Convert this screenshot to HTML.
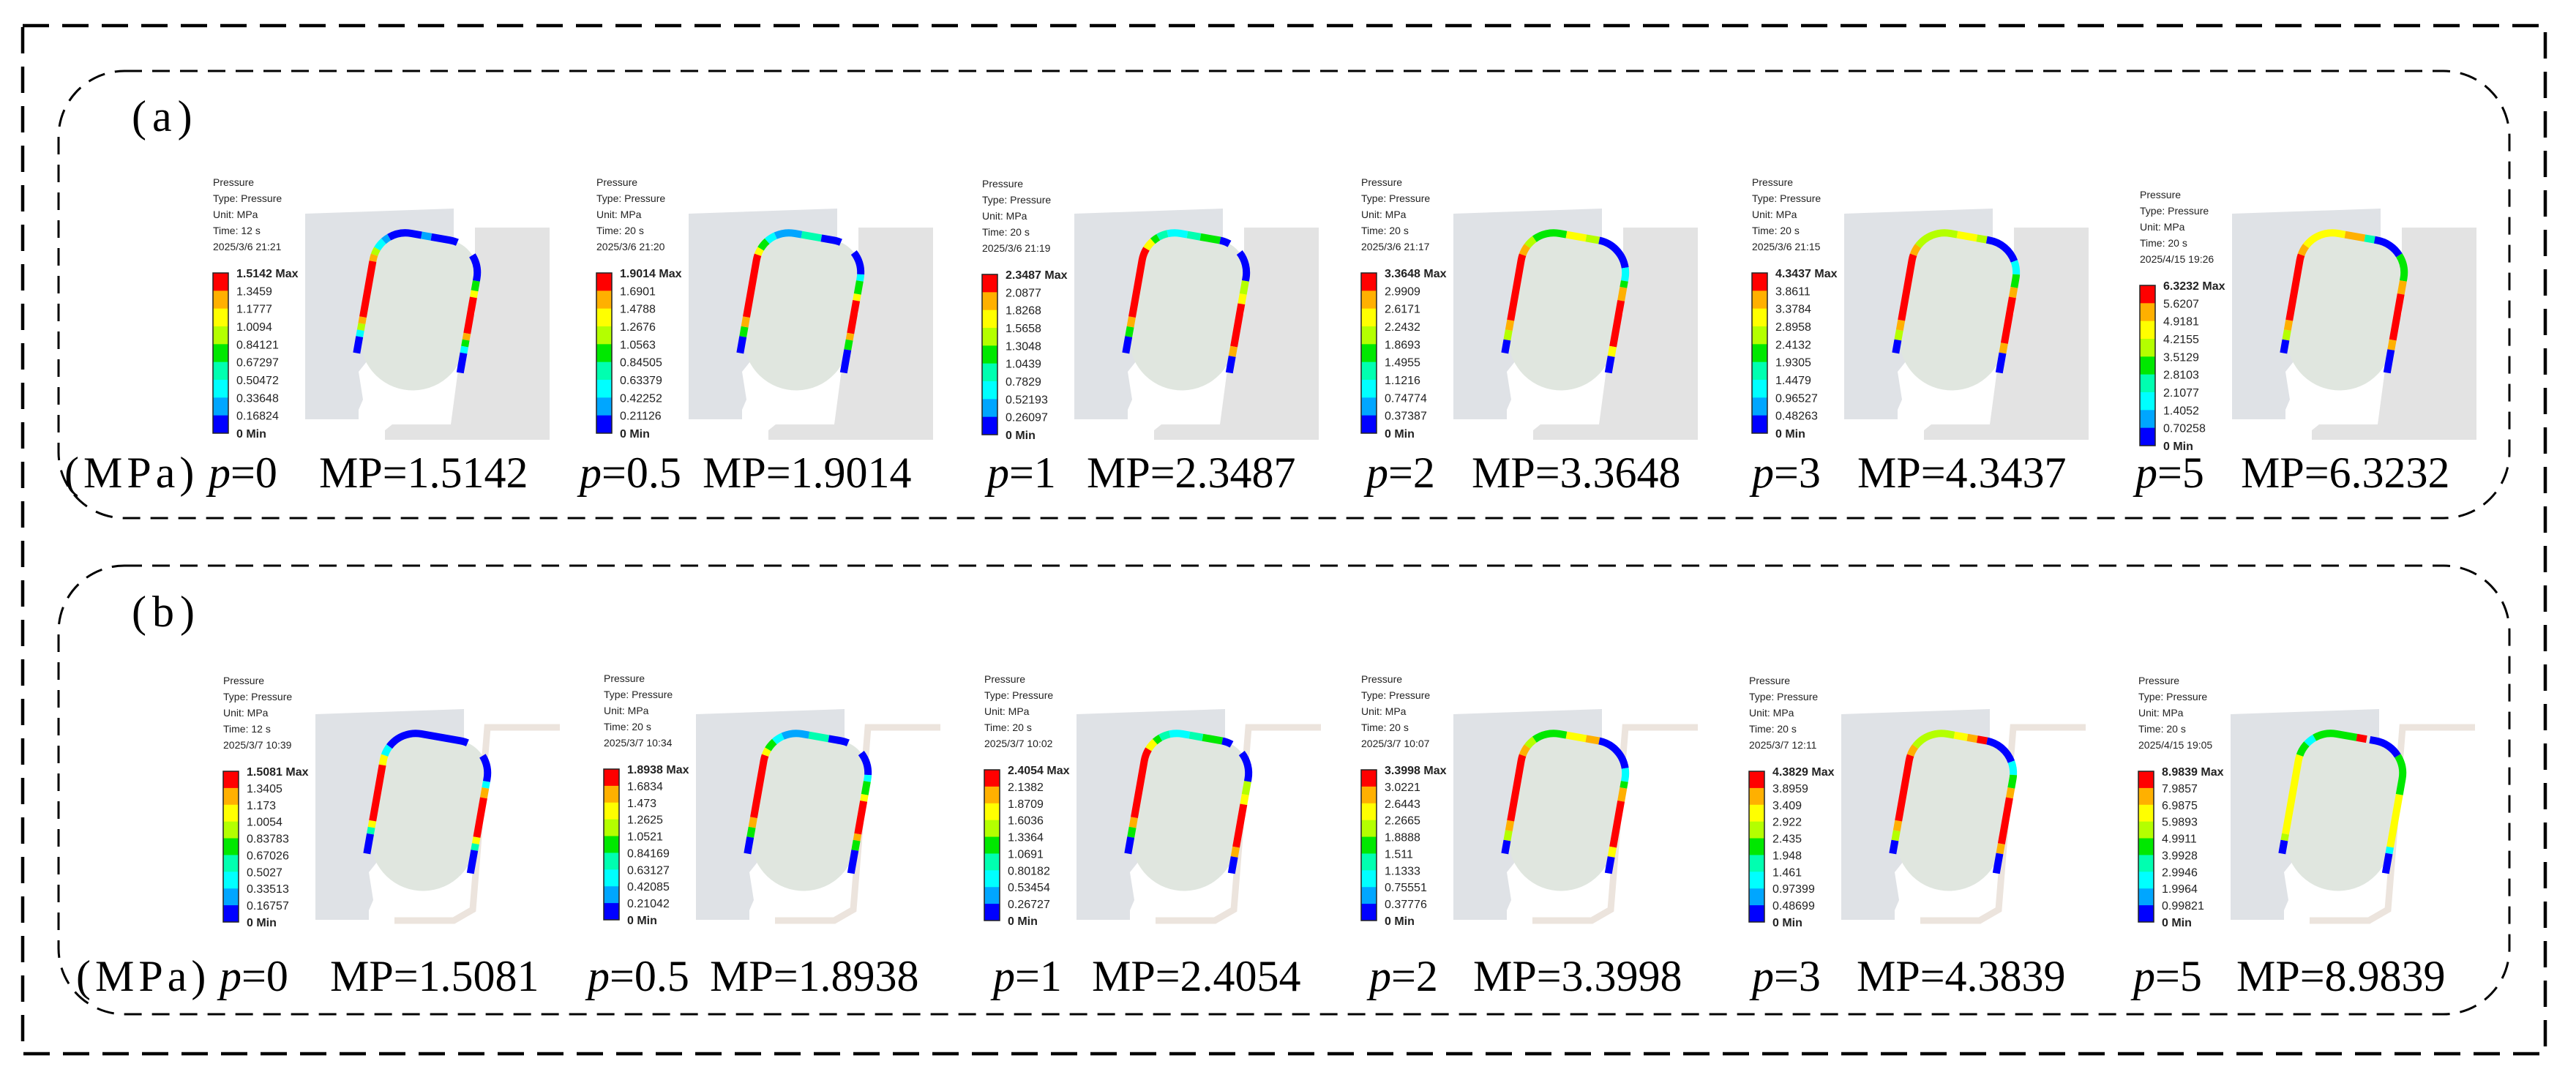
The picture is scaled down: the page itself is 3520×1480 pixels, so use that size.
<!DOCTYPE html>
<html><head><meta charset="utf-8"><style>
html,body{margin:0;padding:0;background:#fff;}
svg{display:block;}
.hd{font-family:"Liberation Sans",sans-serif;font-size:14px;fill:#222;}
.cl{font-family:"Liberation Sans",sans-serif;font-size:16px;fill:#222;}
.big{font-family:"Liberation Serif",serif;font-size:60px;fill:#000;}
</style></head><body>
<svg id="fig" width="3520" height="1480" viewBox="0 0 3520 1480" xmlns="http://www.w3.org/2000/svg">
<rect x="0" y="0" width="3520" height="1480" fill="#fff"/>
<rect x="31" y="35" width="3447" height="1405" fill="none" stroke="#000" stroke-width="4.5" stroke-dasharray="36 18"/>
<rect x="80" y="97" width="3349" height="611" rx="90" ry="90" fill="none" stroke="#000" stroke-width="3" stroke-dasharray="24 14"/>
<rect x="80" y="773" width="3349" height="613" rx="90" ry="90" fill="none" stroke="#000" stroke-width="3" stroke-dasharray="24 14"/>
<text class="big" x="180" y="179" letter-spacing="8">(a)</text>
<text class="big" x="180" y="856" letter-spacing="8">(b)</text>
<text class="big" x="88" y="666" letter-spacing="6">(MPa)</text>
<text class="big" x="104" y="1354" letter-spacing="6">(MPa)</text>
<g id="content"></g>
</svg>
<script>
// ---- data ----
const rowCenterY = [428, 1112];
const rowBarH = [219, 206];
const rowLabelBaseline = [666, 1354];
const barX = [[291, 815, 1342, 1860, 2394, 2924], [305, 825, 1345, 1860, 2390, 2922]];
const barTop = [[373, 373, 375, 373, 373, 390], [1054, 1051, 1052, 1052, 1054, 1054]];
const pValues = ["0", "0.5", "1", "2", "3", "5"];
const pLabelX = [[285, 792, 1349, 1867, 2394, 2918], [300, 803, 1357, 1871, 2394, 2915]];
const mpLabelX = [[436, 960, 1485, 2011, 2538, 3062], [451, 970, 1492, 2013, 2537, 3056]];
const maxPressureA = ["1.5142", "1.9014", "2.3487", "3.3648", "4.3437", "6.3232"];
const maxPressureB = ["1.5081", "1.8938", "2.4054", "3.3998", "4.3839", "8.9839"];
const timesA = ["12 s", "20 s", "20 s", "20 s", "20 s", "20 s"];
const timesB = ["12 s", "20 s", "20 s", "20 s", "20 s", "20 s"];
const datesA = ["2025/3/6 21:21", "2025/3/6 21:20", "2025/3/6 21:19", "2025/3/6 21:17", "2025/3/6 21:15", "2025/4/15 19:26"];
const datesB = ["2025/3/7 10:39", "2025/3/7 10:34", "2025/3/7 10:02", "2025/3/7 10:07", "2025/3/7 12:11", "2025/4/15 19:05"];
const ticksA = [
 ["1.5142","1.3459","1.1777","1.0094","0.84121","0.67297","0.50472","0.33648","0.16824","0"],
 ["1.9014","1.6901","1.4788","1.2676","1.0563","0.84505","0.63379","0.42252","0.21126","0"],
 ["2.3487","2.0877","1.8268","1.5658","1.3048","1.0439","0.7829","0.52193","0.26097","0"],
 ["3.3648","2.9909","2.6171","2.2432","1.8693","1.4955","1.1216","0.74774","0.37387","0"],
 ["4.3437","3.8611","3.3784","2.8958","2.4132","1.9305","1.4479","0.96527","0.48263","0"],
 ["6.3232","5.6207","4.9181","4.2155","3.5129","2.8103","2.1077","1.4052","0.70258","0"]];
const ticksB = [
 ["1.5081","1.3405","1.173","1.0054","0.83783","0.67026","0.5027","0.33513","0.16757","0"],
 ["1.8938","1.6834","1.473","1.2625","1.0521","0.84169","0.63127","0.42085","0.21042","0"],
 ["2.4054","2.1382","1.8709","1.6036","1.3364","1.0691","0.80182","0.53454","0.26727","0"],
 ["3.3998","3.0221","2.6443","2.2665","1.8888","1.511","1.1333","0.75551","0.37776","0"],
 ["4.3829","3.8959","3.409","2.922","2.435","1.948","1.461","0.97399","0.48699","0"],
 ["8.9839","7.9857","6.9875","5.9893","4.9911","3.9928","2.9946","1.9964","0.99821","0"]];
// band colour index 0 (blue, Min) .. 8 (red, Max)
const bandColors = ["#0000ff","#00a6ff","#00ffff","#00ffb0","#00e800","#b4ff00","#ffff00","#ffb000","#ff0000"];
// contact-pressure segments along seal perimeter: [start, end, colourIndex]
const segA = [
 [[0,.05,0],[.05,.07,2],[.07,.09,5],[.09,.11,7],[.11,.28,8],[.28,.30,7],[.30,.32,5],[.32,.35,2],[.35,.37,1],[.37,.47,0],[.47,.50,1],[.50,.58,0],[.64,.72,0],[.72,.75,4],[.75,.77,6],[.77,.88,8],[.88,.90,7],[.90,.92,4],[.92,.94,2],[.94,1,0]],
 [[0,.05,0],[.05,.08,4],[.08,.11,7],[.11,.30,8],[.30,.32,6],[.32,.35,4],[.35,.38,2],[.38,.46,1],[.46,.52,3],[.52,.58,0],[.63,.70,0],[.70,.72,2],[.72,.76,4],[.76,.78,6],[.78,.88,8],[.88,.90,7],[.90,.93,4],[.93,1,0]],
 [[0,.05,0],[.05,.08,4],[.08,.11,7],[.11,.32,8],[.32,.35,6],[.35,.37,4],[.37,.40,3],[.40,.46,2],[.46,.50,3],[.50,.56,4],[.56,.59,0],[.63,.72,0],[.72,.76,5],[.76,.79,6],[.79,.92,8],[.92,.95,7],[.95,1,0]],
 [[0,.04,0],[.04,.07,5],[.07,.10,7],[.10,.30,8],[.30,.33,7],[.33,.36,5],[.36,.46,4],[.46,.52,6],[.52,.56,5],[.56,.68,0],[.68,.72,2],[.72,.74,4],[.74,.78,7],[.78,.92,8],[.92,.95,6],[.95,1,0]],
 [[0,.04,0],[.04,.07,5],[.07,.10,7],[.10,.30,8],[.30,.33,7],[.33,.46,5],[.46,.52,6],[.52,.55,5],[.55,.66,0],[.66,.70,2],[.70,.74,4],[.74,.77,7],[.77,.91,8],[.91,.94,7],[.94,1,0]],
 [[0,.04,0],[.04,.07,5],[.07,.10,7],[.10,.30,8],[.30,.33,7],[.33,.46,6],[.46,.52,7],[.52,.55,3],[.55,.64,0],[.64,.72,4],[.72,.76,7],[.76,.90,8],[.90,.93,7],[.93,1,0]]];
const segB = [
 [[0,.06,0],[.06,.08,3],[.08,.10,6],[.10,.27,8],[.27,.30,6],[.30,.33,2],[.33,.58,0],[.64,.72,0],[.72,.74,2],[.74,.77,7],[.77,.89,8],[.89,.91,6],[.91,.93,3],[.93,1,0]],
 [[0,.05,0],[.05,.08,4],[.08,.11,7],[.11,.30,8],[.30,.32,6],[.32,.35,4],[.35,.38,2],[.38,.46,1],[.46,.52,3],[.52,.58,0],[.63,.70,0],[.70,.72,2],[.72,.76,4],[.76,.78,6],[.78,.88,8],[.88,.90,7],[.90,.93,4],[.93,1,0]],
 [[0,.05,0],[.05,.08,4],[.08,.11,7],[.11,.32,8],[.32,.35,6],[.35,.37,4],[.37,.40,3],[.40,.46,2],[.46,.50,3],[.50,.56,4],[.56,.59,0],[.63,.72,0],[.72,.76,5],[.76,.79,6],[.79,.92,8],[.92,.95,7],[.95,1,0]],
 [[0,.04,0],[.04,.07,5],[.07,.10,7],[.10,.30,8],[.30,.33,7],[.33,.36,5],[.36,.46,4],[.46,.52,6],[.52,.56,7],[.56,.68,0],[.68,.72,2],[.72,.74,4],[.74,.78,7],[.78,.92,8],[.92,.95,6],[.95,1,0]],
 [[0,.04,0],[.04,.07,5],[.07,.10,7],[.10,.30,8],[.30,.33,7],[.33,.46,5],[.46,.50,6],[.50,.53,7],[.53,.56,8],[.56,.66,0],[.66,.70,2],[.70,.74,4],[.74,.77,7],[.77,.91,8],[.91,.94,7],[.94,1,0]],
 [[0,.04,0],[.04,.06,5],[.06,.30,6],[.30,.34,4],[.34,.37,2],[.37,.50,4],[.50,.53,8],[.54,.64,0],[.64,.76,4],[.76,.92,6],[.92,.94,2],[.94,1,0]]];

// ---- drawing ----
const NS = "http://www.w3.org/2000/svg";
const root = document.getElementById("content");
function mk(tag, attrs, parent) {
  const e = document.createElementNS(NS, tag);
  for (const k in attrs) e.setAttribute(k, attrs[k]);
  (parent || root).appendChild(e);
  return e;
}
const sealPath = "M -72,-61 A45 45 0 0 1 -27,-106 L 27,-106 A45 45 0 0 1 72,-61 L 72,34 A72 72 0 0 1 -72,34 Z";
const bandPath = "M -72,68 L -72,-61 A45 45 0 0 1 -27,-106 L 27,-106 A45 45 0 0 1 72,-61 L 72,70";
const maxList = [maxPressureA, maxPressureB];
const timeList = [timesA, timesB];
const dateList = [datesA, datesB];
const tickList = [ticksA, ticksB];
const segList = [segA, segB];

for (let r = 0; r < 2; r++) {
  const cy = rowCenterY[r];
  for (let i = 0; i < 6; i++) {
    const bx = barX[r][i], by = barTop[r][i], H = rowBarH[r];
    const g = mk("g", {});
    
    
    // geometry
    const geo = mk("g", {transform: `translate(${bx},${cy})`}, g);
    const lb = mk("polygon", {points: "126,-136 329,-143 329,-100 290,-60 215,60 199,80 205,118 199,132 199,145 126,145", fill: "#dfe2e6"}, geo);
    
    
    if (r === 0) {
      const rb = mk("polygon", {points: "358,-117 460,-117 460,173 235,173 235,160 245,152 325,152 340,40 358,0", fill: "#e3e3e3"}, geo);
      
      
    } else {
      const rb = mk("polyline", {points: "460,-118 361,-118 341,131 315,146 234,146", fill: "none", stroke: "#ece4dd", "stroke-width": 9}, geo);
      
      
    }
    const sg = mk("g", {transform: "translate(279,0) rotate(10)"}, geo);
    const seal = mk("path", {d: sealPath, fill: "#e0e6df"}, sg);
    
    
    segList[r][i].forEach(s => {
      const p = mk("path", {d: bandPath, pathLength: 1, fill: "none", stroke: bandColors[s[2]], "stroke-width": 10,
        "stroke-dasharray": `${(s[1] - s[0]).toFixed(4)} 3`, "stroke-dashoffset": (-s[0]).toFixed(4)}, sg);
      
      
    });
    // header text
    const hdr = ["Pressure", "Type: Pressure", "Unit: MPa", "Time: " + timeList[r][i], dateList[r][i]];
    const ty = by - 133;
    hdr.forEach((t, k) => {
      const tx = mk("text", {class: "hd", x: bx, y: ty + 14 + k * 22}, g);
      tx.textContent = t;
      
      
    });
    // colorbar
    const bw = 21, bh = H / 9;
    for (let k = 0; k < 9; k++) {
      const rc = mk("rect", {x: bx, y: by + k * bh, width: bw, height: bh + 0.5, fill: bandColors[8 - k]}, g);
      
      
    }
    const fr = mk("rect", {x: bx, y: by, width: bw, height: H, fill: "none", stroke: "#222", "stroke-width": 1.5}, g);
    
    
    tickList[r][i].forEach((t, k) => {
      const tx = mk("text", {class: "cl", x: bx + 32, y: by + k * bh + 6}, g);
      if (k === 0) { tx.textContent = t + " Max"; tx.setAttribute("font-weight", "bold"); }
      else if (k === 9) { tx.textContent = t + " Min"; tx.setAttribute("font-weight", "bold"); }
      else tx.textContent = t;
      
      
    });
    // bottom labels
    const pl = mk("text", {class: "big", x: pLabelX[r][i], y: rowLabelBaseline[r]}, g);
    pl.innerHTML = '<tspan font-style="italic">p</tspan>=' + pValues[i];
    
    
    const ml = mk("text", {class: "big", x: mpLabelX[r][i], y: rowLabelBaseline[r]}, g);
    ml.textContent = "MP=" + maxList[r][i];
    
    
  }
}
</script>
</body></html>
